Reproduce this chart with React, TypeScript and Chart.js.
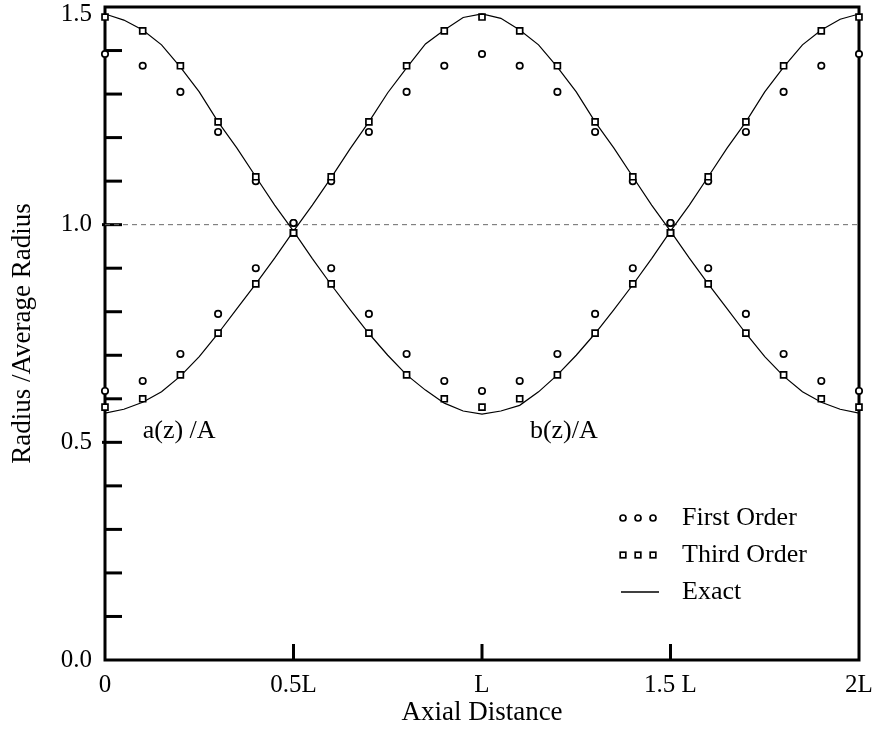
import React, { useEffect, useRef } from "react";
import { Chart, registerables } from "chart.js";

Chart.register(...registerables);

// ---- data ----
const zFine = [
  0, 0.05, 0.1, 0.15, 0.2, 0.25, 0.3, 0.35, 0.4, 0.45, 0.5, 0.55, 0.6, 0.65, 0.7, 0.75, 0.8, 0.85, 0.9, 0.95, 1.0,
  1.05, 1.1, 1.15, 1.2, 1.25, 1.3, 1.35, 1.4, 1.45, 1.5, 1.55, 1.6, 1.65, 1.7, 1.75, 1.8, 1.85, 1.9, 1.95, 2.0,
];
const exactB = [
  1.484, 1.47, 1.447, 1.413, 1.362, 1.305, 1.236, 1.176, 1.11, 1.045, 0.985, 0.922, 0.862, 0.805, 0.75, 0.7, 0.655,
  0.62, 0.59, 0.572, 0.565, 0.572, 0.585, 0.616, 0.655, 0.7, 0.75, 0.805, 0.862, 0.922, 0.985, 1.045, 1.11, 1.176,
  1.236, 1.305, 1.362, 1.413, 1.447, 1.472, 1.484,
];
const exactA = [
  0.567, 0.576, 0.592, 0.616, 0.652, 0.697, 0.75, 0.807, 0.864, 0.923, 0.985, 1.045, 1.108, 1.174, 1.236, 1.303, 1.36,
  1.415, 1.447, 1.476, 1.484, 1.474, 1.447, 1.413, 1.362, 1.305, 1.236, 1.176, 1.11, 1.045, 0.985, 0.923, 0.864,
  0.807, 0.75, 0.697, 0.652, 0.616, 0.592, 0.576, 0.567,
];
const zCoarse = [0, 0.1, 0.2, 0.3, 0.4, 0.5, 0.6, 0.7, 0.8, 0.9, 1.0, 1.1, 1.2, 1.3, 1.4, 1.5, 1.6, 1.7, 1.8, 1.9, 2.0];
const firstB = [
  1.392, 1.365, 1.305, 1.213, 1.1, 1.004, 0.9, 0.795, 0.703, 0.641, 0.618, 0.641, 0.703, 0.795, 0.9, 1.004, 1.1, 1.213,
  1.305, 1.365, 1.392,
];
const firstA = [
  0.618, 0.641, 0.703, 0.795, 0.9, 1.004, 1.1, 1.213, 1.305, 1.365, 1.392, 1.365, 1.305, 1.213, 1.1, 1.004, 0.9, 0.795,
  0.703, 0.641, 0.618,
];
const thirdB = [
  1.477, 1.445, 1.365, 1.236, 1.11, 0.981, 0.864, 0.751, 0.655, 0.6, 0.581, 0.6, 0.655, 0.751, 0.864, 0.981, 1.11,
  1.236, 1.365, 1.445, 1.477,
];
const thirdA = [
  0.581, 0.6, 0.655, 0.751, 0.864, 0.981, 1.11, 1.236, 1.365, 1.445, 1.477, 1.445, 1.365, 1.236, 1.11, 0.981, 0.864,
  0.751, 0.655, 0.6, 0.581,
];
const referenceZ = [0, 2];
const referenceLevel = [1.0, 1.0];

const xTickValues = [0, 0.5, 1, 1.5, 2];
const xTickLabels = ["0", "0.5L", "L", "1.5 L", "2L"];
const yTickValues = [0, 0.5, 1.0, 1.5];
const yTickLabels = ["0.0", "0.5", "1.0", "1.5"];
const yMinorTicks = [0.1, 0.2, 0.3, 0.4, 0.5, 0.6, 0.7, 0.8, 0.9, 1.0, 1.1, 1.2, 1.3, 1.4];
const legendLabels = ["First Order", "Third Order", "Exact"];
const curveLabels = ["a(z) /A", "b(z)/A"];
const curveLabelZ = [0.1, 1.127];
const curveLabelV = [0.526, 0.526];

const FONT = '"Liberation Serif", "Times New Roman", serif';

const pts = (xs: number[], ys: number[]) => xs.map((x, i) => ({ x, y: ys[i] }));

const framePlugin = {
  id: "frame",
  beforeDatasetsDraw(chart: any) {
    const { ctx, chartArea: a, scales } = chart;
    const xs = scales.x;
    const ys = scales.y;
    ctx.save();
    ctx.strokeStyle = "#000";
    ctx.lineWidth = 3;
    ctx.lineCap = "square";
    ctx.strokeRect(a.left, a.top, a.right - a.left, a.bottom - a.top);
    ctx.lineWidth = 3;
    ctx.lineCap = "butt";
    // y ticks (inward)
    yMinorTicks.forEach((v) => {
      const py = ys.getPixelForValue(v);
      const major = Math.abs(v - Math.round(v * 2) / 2) < 1e-6;
      ctx.beginPath();
      ctx.moveTo(a.left - (major ? 3 : 0), py);
      ctx.lineTo(a.left + 17, py);
      ctx.stroke();
    });
    // x ticks (inward)
    xTickValues.slice(1, -1).forEach((v) => {
      const px = xs.getPixelForValue(v);
      ctx.beginPath();
      ctx.moveTo(px, a.bottom);
      ctx.lineTo(px, a.bottom - 16);
      ctx.stroke();
    });
    ctx.restore();
  },
  afterDraw(chart: any) {
    const { ctx, chartArea: a, scales } = chart;
    const xs = scales.x;
    const ys = scales.y;
    ctx.save();
    ctx.fillStyle = "#000";
    // y tick labels
    ctx.font = `25px ${FONT}`;
    ctx.textAlign = "right";
    ctx.textBaseline = "middle";
    yTickValues.forEach((v, i) => {
      const py = Math.max(ys.getPixelForValue(v), a.top + 7);
      ctx.fillText(yTickLabels[i], a.left - 13, py);
    });
    // curve labels
    ctx.font = `26px ${FONT}`;
    ctx.textAlign = "left";
    curveLabels.forEach((t, i) => {
      ctx.fillText(t, xs.getPixelForValue(curveLabelZ[i]), ys.getPixelForValue(curveLabelV[i]));
    });
    // legend
    const lx = 623;
    const ly = [518, 555, 592];
    ctx.strokeStyle = "#000";
    ctx.lineWidth = 1.7;
    for (let k = 0; k < 3; k++) {
      const cx = lx + k * 15;
      ctx.beginPath();
      ctx.arc(cx, ly[0], 3, 0, Math.PI * 2);
      ctx.fillStyle = "#fff";
      ctx.fill();
      ctx.stroke();
      ctx.fillStyle = "#fff";
      ctx.fillRect(cx - 2.8, ly[1] - 2.8, 5.6, 5.6);
      ctx.strokeRect(cx - 2.8, ly[1] - 2.8, 5.6, 5.6);
    }
    ctx.lineWidth = 1.3;
    ctx.beginPath();
    ctx.moveTo(621, ly[2]);
    ctx.lineTo(659, ly[2]);
    ctx.stroke();
    ctx.fillStyle = "#000";
    ctx.font = `26px ${FONT}`;
    ctx.textAlign = "left";
    ctx.textBaseline = "middle";
    legendLabels.forEach((t, i) => ctx.fillText(t, 682, ly[i]));
    ctx.restore();
  },
};

export default function App() {
  const ref = useRef<HTMLCanvasElement | null>(null);

  useEffect(() => {
    if (!ref.current) return;
    const circle = {
      pointStyle: "circle",
      pointRadius: 3.2,
      pointBorderWidth: 1.7,
      pointBackgroundColor: "#fff",
      pointBorderColor: "#000",
      showLine: false,
      clip: false as any,
    };
    const square = {
      pointStyle: "rect",
      pointRadius: 4.2,
      pointBorderWidth: 1.7,
      pointBackgroundColor: "#fff",
      pointBorderColor: "#000",
      showLine: false,
      clip: false as any,
    };
    const line = {
      pointRadius: 0,
      borderColor: "#000",
      borderWidth: 1.2,
      tension: 0,
      showLine: true,
      fill: false,
    };
    const chart = new Chart(ref.current, {
      type: "scatter",
      data: {
        datasets: [
          { label: "Third Order b", data: pts(zCoarse, thirdB), ...square },
          { label: "Third Order a", data: pts(zCoarse, thirdA), ...square },
          { label: "First Order b", data: pts(zCoarse, firstB), ...circle },
          { label: "First Order a", data: pts(zCoarse, firstA), ...circle },
          { label: "Exact b", data: pts(zFine, exactB), ...line },
          { label: "Exact a", data: pts(zFine, exactA), ...line },
          {
            label: "Reference",
            data: pts(referenceZ, referenceLevel),
            pointRadius: 0,
            borderColor: "#6a6a6a",
            borderWidth: 1,
            borderDash: [5, 4],
            showLine: true,
          },
        ] as any,
      },
      options: {
        animation: false,
        responsive: true,
        maintainAspectRatio: false,
        layout: { padding: { top: 7, right: 19, left: 0, bottom: 0 } },
        plugins: { legend: { display: false }, tooltip: { enabled: false } },
        scales: {
          x: {
            type: "linear",
            min: 0,
            max: 2,
            grid: { display: false },
            border: { display: false },
            afterBuildTicks: (s: any) => {
              s.ticks = xTickValues.map((v) => ({ value: v }));
            },
            ticks: {
              autoSkip: false,
              maxRotation: 0,
              padding: 2,
              color: "#000",
              font: { family: FONT, size: 25 },
              callback: (v: any) => {
                const i = xTickValues.indexOf(Number(v));
                return i >= 0 ? xTickLabels[i] : "";
              },
            },
            title: {
              display: true,
              text: "Axial Distance",
              color: "#000",
              font: { family: FONT, size: 27 },
              padding: { top: 0, bottom: 3 },
            },
            afterFit: (s: any) => {
              s.height = 72;
              s.paddingLeft = 0;
              s.paddingRight = 0;
            },
          } as any,
          y: {
            type: "linear",
            min: 0,
            max: 1.5,
            grid: { display: false },
            border: { display: false },
            ticks: { display: false, stepSize: 0.5 },
            title: {
              display: true,
              text: "Radius /Average Radius",
              color: "#000",
              font: { family: FONT, size: 27 },
              padding: { top: 7, bottom: 0 },
            },
            afterFit: (s: any) => {
              s.width = 105;
              s.paddingTop = 0;
              s.paddingBottom = 0;
            },
          } as any,
        },
      },
      plugins: [framePlugin],
    });
    return () => chart.destroy();
  }, []);

  return (
    <div style={{ position: "absolute", left: 0, top: 0, width: 878, height: 732, background: "#fff" }}>
      <canvas ref={ref} />
    </div>
  );
}
